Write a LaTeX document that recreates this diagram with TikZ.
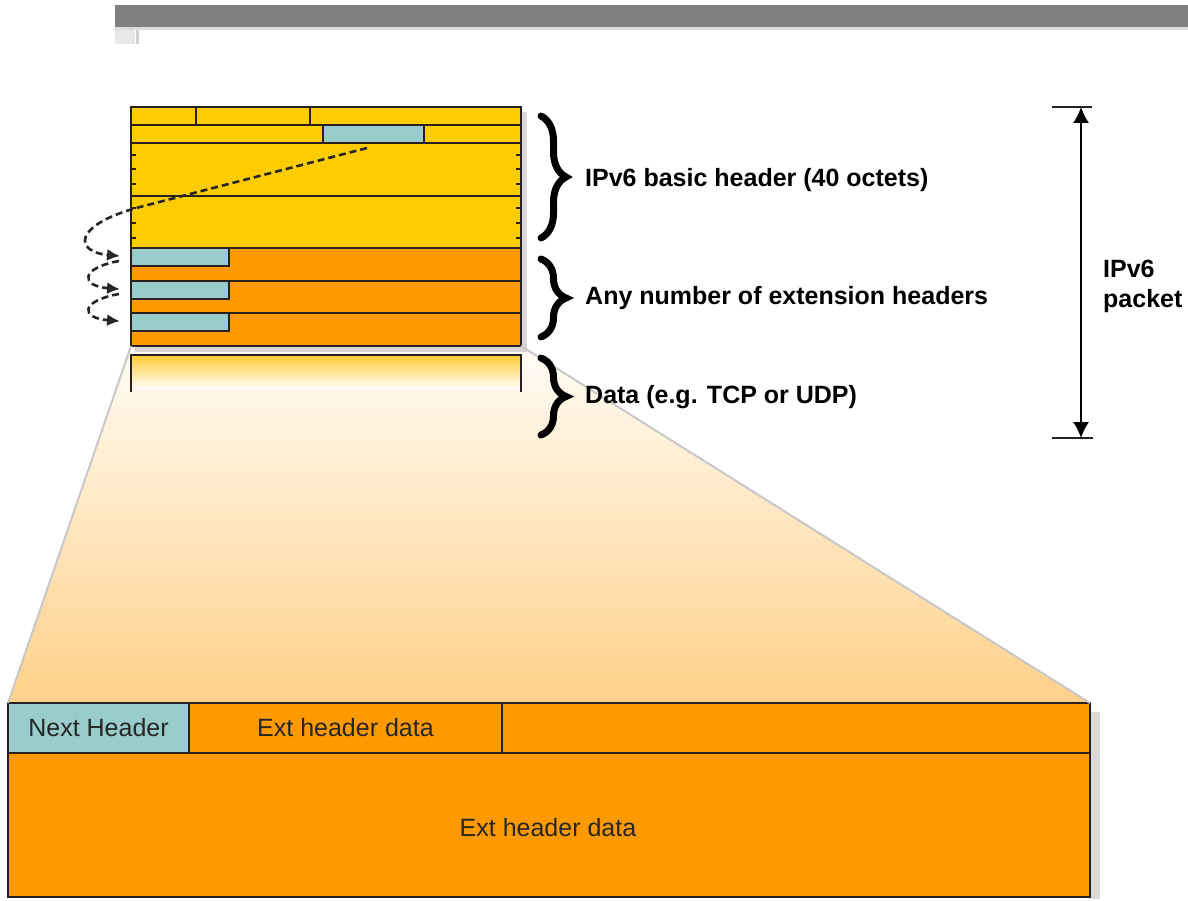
\documentclass[tikz,border=0pt]{standalone}
\usepackage{fontspec}
\setmainfont{Liberation Sans}
\usetikzlibrary{arrows.meta,decorations.pathreplacing}
\definecolor{hdryellow}{HTML}{FFCC00}
\definecolor{extorange}{HTML}{FF9900}
\definecolor{nhblue}{HTML}{99CCCC}
\definecolor{lineclr}{HTML}{2A2020}
\definecolor{shadowgray}{HTML}{D9D5D5}
\definecolor{funneltop}{HTML}{FFFCF6}
\definecolor{funnelmid}{HTML}{FFF0D8}
\definecolor{funnelbot}{HTML}{FFD088}
\definecolor{funnelline}{HTML}{C8C8C8}
\definecolor{bargray}{HTML}{808080}
\definecolor{barlight}{HTML}{DCDCDC}
\definecolor{datayellow}{HTML}{FFCC33}
\begin{document}
\begin{tikzpicture}[x=1pt,y=-1pt,
  cell/.style={draw=lineclr, line width=1.5pt, inner sep=0pt, outer sep=0pt, anchor=north west},
  bigcell/.style={cell, line width=1.8pt, font=\fontsize{25}{30}\selectfont, text=black!85},
  lbl/.style={font=\fontsize{25}{30}\selectfont\bfseries, anchor=west, inner sep=0pt},
  ptr/.style={dash pattern=on 7pt off 4pt, line width=2.6pt, draw=black!85, -{Latex[length=13pt,width=12pt]}, shorten >=11pt},
  bracestyle/.style={decorate, decoration={brace, amplitude=25pt, aspect=0.5}, line width=7pt, line cap=round},
  tick/.style={draw=lineclr, line width=1.2pt},
]
\useasboundingbox (0,0) rectangle (1188,901);

% top bar
\fill[bargray] (115,5) rectangle (1188,27);
\fill[barlight] (115,27) rectangle (1188,30);
\fill[black!9] (115,30) rectangle (135,44);
\fill[black!18] (136,30) rectangle (139,44);

% funnel (zoom)
\shade[top color=funneltop, middle color=funnelmid, bottom color=funnelbot]
  (131,347) -- (521,347) -- (1090,703) -- (8,703) -- cycle;

% shadows
\fill[shadowgray] (521,112) rectangle (527,352);
\fill[shadowgray] (135,346) rectangle (527,352);
\fill[black!15] (1090,712) rectangle (1100,899);

% IPv6 basic header
\node[cell, fill=hdryellow, minimum width=65pt,  minimum height=18pt] (r1a) at (131,107) {};
\node[cell, fill=hdryellow, minimum width=114pt, minimum height=18pt] (r1b) at (196,107) {};
\node[cell, fill=hdryellow, minimum width=211pt, minimum height=18pt] (r1c) at (310,107) {};
\node[cell, fill=hdryellow, minimum width=192pt, minimum height=18pt] (r2a) at (131,125) {};
\node[cell, fill=nhblue,    minimum width=101pt, minimum height=18pt] (nh0) at (323,125) {};
\node[cell, fill=hdryellow, minimum width=97pt,  minimum height=18pt] (r2c) at (424,125) {};
\node[cell, fill=hdryellow, minimum width=390pt, minimum height=53pt] (src) at (131,143) {};
\node[cell, fill=hdryellow, minimum width=390pt, minimum height=52pt] (dst) at (131,196) {};
\foreach \y in {155,169,184,208,223,238}{
  \draw[tick] (131,\y) -- (136,\y);
  \draw[tick] (516,\y) -- (521,\y);
}

% extension headers
\node[cell, fill=extorange, minimum width=390pt, minimum height=33pt] (ext1) at (131,248) {};
\node[cell, fill=nhblue,    minimum width=98pt,  minimum height=18pt] (nh1)  at (131,248) {};
\node[cell, fill=extorange, minimum width=390pt, minimum height=32pt] (ext2) at (131,281) {};
\node[cell, fill=nhblue,    minimum width=98pt,  minimum height=18pt] (nh2)  at (131,281) {};
\node[cell, fill=extorange, minimum width=390pt, minimum height=33pt] (ext3) at (131,313) {};
\node[cell, fill=nhblue,    minimum width=98pt,  minimum height=18pt] (nh3)  at (131,313) {};

% data
\node[inner sep=0pt, outer sep=0pt, anchor=north west, minimum width=390pt, minimum height=37pt] (data) at (131,355) {};
\shade[top color=datayellow, bottom color=funneltop] (131,355) rectangle (521,388);
\draw[draw=lineclr, line width=1.5pt] (data.south west) -- (data.north west) -- (data.north east) -- (data.south east);

% bottom box
\node[bigcell, fill=extorange, minimum width=1082pt, minimum height=194pt] (bot) at (8,703) {};
\node[bigcell, fill=nhblue,    minimum width=181pt,  minimum height=50pt] (nhf) at (8,703) {Next Header};
\node[bigcell, fill=extorange, minimum width=313pt,  minimum height=50pt] (ehd1) at (189,703) {Ext header data};
\node[bigcell, fill=extorange, minimum width=588pt,  minimum height=50pt] (ehd2) at (502,703) {};
\node[font=\fontsize{25}{30}\selectfont, text=black!85, inner sep=0pt] (ehd3) at (548,828) {Ext header data};

% funnel lines
\draw[funnelline, line width=2pt] (ext3.south west) -- (bot.north west);
\draw[funnelline, line width=2pt] (ext3.south east) -- (bot.north east);

% next header pointers
\coordinate (p0) at (367,148);
\coordinate (s1) at (119,261);
\coordinate (s2) at (119,294);
\draw[ptr] (p0) -- (140,207) .. controls (72,225) and (74,252) .. (nh1.west);
\draw[ptr] (s1) .. controls (80,268) and (80,286) .. (nh2.west);
\draw[ptr] (s2) .. controls (80,301) and (80,318) .. (nh3.west);

% braces
\draw[bracestyle] (541,116) -- (541,238);
\draw[bracestyle] (541,259) -- (541,337);
\draw[bracestyle] (541,358) -- (541,435);

% labels
\node[lbl] (l1) at (585,180) {IPv6 basic header (40 octets)};
\node[lbl] (l2) at (585,298) {Any number of extension headers};
\node[lbl] (l3) at (585,397) {Data (e.g. TCP or UDP)};

% packet extent
\coordinate (pt) at (1081,107);
\coordinate (pb) at (1081,438);
\draw[lineclr, line width=1.5pt] (1052,107) -- (1092,107);
\draw[lineclr, line width=1.5pt] (1052,438) -- (1093,438);
\draw[black, line width=1.5pt, {Latex[length=16pt,width=16pt]}-{Latex[length=16pt,width=16pt]}] (pt) -- (pb);
\node[lbl, align=left] (pkt) at (1103,286) {IPv6\\packet};
\end{tikzpicture}
\end{document}
